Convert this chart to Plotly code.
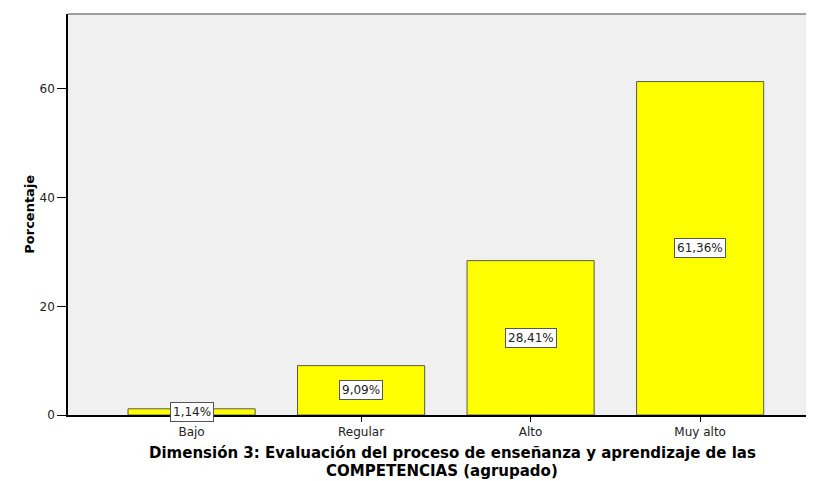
import plotly.graph_objects as go

categorias = ["Bajo", "Regular", "Alto", "Muy alto"]
porcentajes = [1.14, 9.09, 28.41, 61.36]
etiquetas = ["1,14%", "9,09%", "28,41%", "61,36%"]
y_ticks = [0, 20, 40, 60]

# la página tiene 8px de margen en el body: la figura se ajusta a lo visible
W, H = 814, 473

fig = go.Figure()
fig.add_trace(go.Bar(
    x=categorias, y=porcentajes, width=0.75,
    marker=dict(color="#ffff00", line=dict(color="#5a5a4a", width=1)),
    hoverinfo="skip", showlegend=False,
))

# etiquetas en caja blanca a media altura de cada barra
for c, v, t in zip(categorias, porcentajes, etiquetas):
    fig.add_annotation(x=c, y=v / 2, text=t, showarrow=False,
                       font=dict(family="DejaVu Sans", size=12, color="#222"),
                       bgcolor="white", bordercolor="#555", borderwidth=1, borderpad=2)

tit_font = dict(family="DejaVu Sans", size=15, color="black", weight="bold")
fig.add_annotation(x=0.51, y=-0.095, xref="paper", yref="paper", yanchor="middle",
                   text="Dimensión 3: Evaluación del proceso de enseñanza y aprendizaje de las",
                   showarrow=False, font=tit_font)
fig.add_annotation(x=0.496, y=-0.14, xref="paper", yref="paper", yanchor="middle",
                   text="COMPETENCIAS (agrupado)", showarrow=False, font=tit_font)

fig.add_annotation(x=-0.064, y=0.5, xref="paper", yref="paper", textangle=-90,
                   text="Porcentaje", showarrow=False,
                   font=dict(family="DejaVu Sans", size=13, color="black", weight="bold"))

# borde superior del área del gráfico
fig.add_shape(type="line", xref="paper", yref="paper", x0=0, x1=1, y0=1, y1=1,
              line=dict(color="#808080", width=1.5))

fig.update_layout(
    width=W, height=H,
    margin=dict(l=60, r=0, t=6, b=66),
    paper_bgcolor="white", plot_bgcolor="#f0f0f0",
    font=dict(family="DejaVu Sans", size=12, color="#222"),
)
fig.update_xaxes(
    range=[-0.729, 3.719], showgrid=False, showline=True, linecolor="black", linewidth=1.5,
    ticks="outside", ticklen=5, tickcolor="black",
)
fig.update_yaxes(
    range=[0, 73.8], tickvals=y_ticks, showgrid=False, zeroline=False,
    showline=True, linecolor="black", linewidth=1.5,
    ticks="outside", ticklen=9, tickcolor="black",
)

fig.write_html("out.html")
